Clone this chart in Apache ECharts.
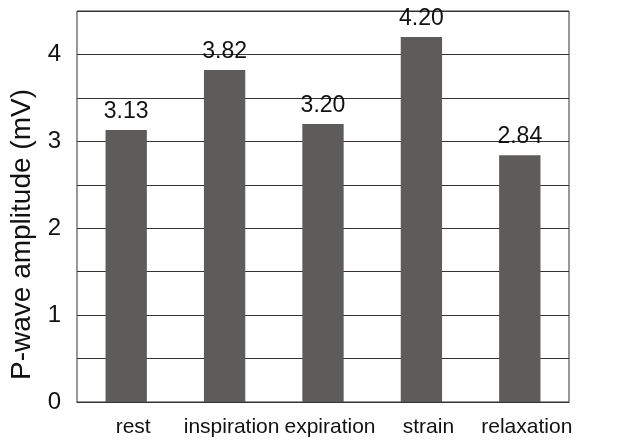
<!DOCTYPE html>
<html><head><meta charset="utf-8">
<script src="https://cdn.jsdelivr.net/npm/echarts@6/dist/echarts.min.js"></script>
<style>html,body{margin:0;padding:0;background:#fff}#c{width:628px;height:444px}</style>
</head><body><div id="c"></div>
<script>
var categories = ['rest', 'inspiration', 'expiration', 'strain', 'relaxation'];
var values = [3.13, 3.82, 3.20, 4.20, 2.84];
var yTicks = [0, 1, 2, 3, 4];
var chart = echarts.init(document.getElementById('c'));
var font = '"Liberation Sans", Arial, sans-serif';
chart.setOption({
  animation: false,
  grid: {left: 77, right: 59, top: 11, bottom: 42, show: true, borderColor: '#333', borderWidth: 1,
    containLabel: false, outerBoundsMode: 'none'},
  xAxis: {
    type: 'category', data: categories,
    axisLine: {show: true, lineStyle: {color: '#333'}},
    axisTick: {show: false},
    axisLabel: {color: '#111', fontSize: 21, fontFamily: font, margin: 15, interval: 0,
      hideOverlap: false, padding: [0, 0, 0, 14]}
  },
  yAxis: {
    type: 'value', min: 0, max: 4.5, interval: 0.5,
    name: 'P-wave amplitude (mV)', nameLocation: 'middle', nameGap: 40,
    nameTextStyle: {color: '#111', fontSize: 28, fontFamily: font, padding: [0, 56, 0, 0]},
    axisLine: {show: false}, axisTick: {show: false},
    axisLabel: {color: '#111', fontSize: 24, fontFamily: font, margin: 16,
      formatter: function (v) { return yTicks.indexOf(v) >= 0 ? String(v) : ''; }},
    splitLine: {show: true, lineStyle: {color: '#333', width: 1}}
  },
  series: [{
    type: 'bar', data: values, barWidth: '42%',
    itemStyle: {color: '#5d5c5b'},
    label: {show: true, position: 'top', distance: 7, color: '#111', fontSize: 23, fontFamily: font,
      formatter: function (p) { return p.value.toFixed(2); }}
  }]
});
</script></body></html>
